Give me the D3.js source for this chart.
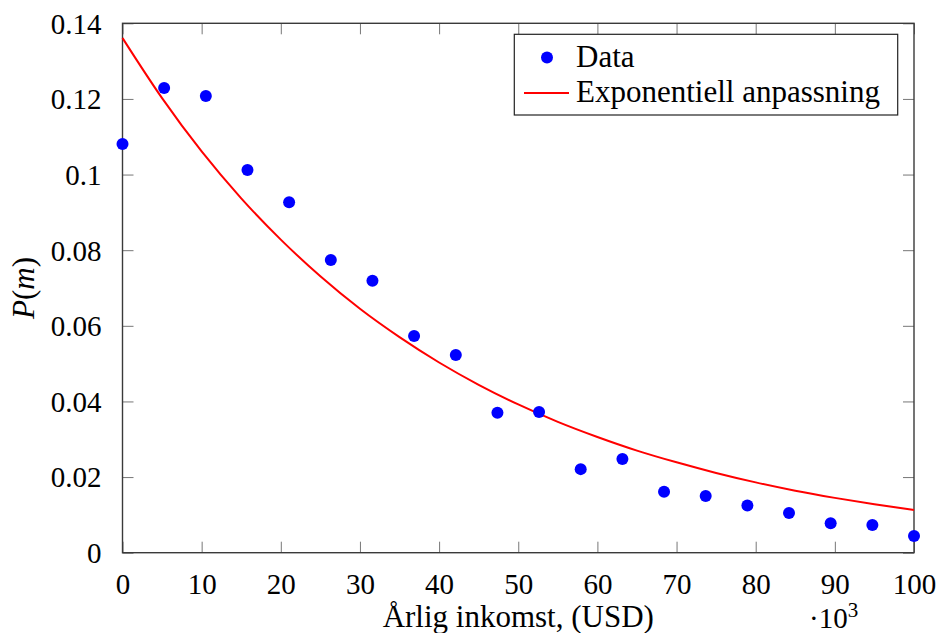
<!DOCTYPE html>
<html>
<head>
<meta charset="utf-8">
<script src="https://cdn.jsdelivr.net/npm/d3@7"></script>
<style>
    body { margin: 0; background: #fff; }
    svg text { font-family: 'Liberation Serif', 'Times New Roman', Times, 'DejaVu Serif', serif; fill: #000; }
</style>
</head>
<body>
<svg width="938" height="633"></svg>
<script>
// Data points (income in thousands USD, probability)
const incomeK = [0, 5.26, 10.53, 15.79, 21.05, 26.32, 31.58, 36.84, 42.11, 47.37,
    52.63, 57.89, 63.16, 68.42, 73.68, 78.95, 84.21, 89.47, 94.74, 100];
const probability = [0.1081, 0.1229, 0.1208, 0.1012, 0.0927, 0.0774, 0.0719, 0.0573, 0.0523, 0.0370,
    0.0372, 0.0221, 0.0248, 0.0161, 0.0150, 0.0125, 0.0105, 0.0078, 0.0073, 0.0044];

// Exponential fit
const fitX = [0, 5, 10, 15, 20, 25, 30, 35, 40, 45, 50, 55, 60, 65, 70, 75, 80, 85, 90, 95, 100];
const fitY = [0.1361, 0.1202, 0.1061, 0.0937, 0.0828, 0.0731, 0.0645, 0.0570, 0.0503, 0.0444,
    0.0392, 0.0346, 0.0306, 0.0270, 0.0239, 0.0211, 0.0186, 0.0164, 0.0145, 0.0128, 0.0113];

const xTicks = [0, 10, 20, 30, 40, 50, 60, 70, 80, 90, 100];
const yTicks = [0, 0.02, 0.04, 0.06, 0.08, 0.1, 0.12, 0.14];
const legendLabels = ['Data', 'Exponentiell anpassning'];

function drawChart() {
    const svg = d3.select('svg');
    const box = { left: 122.5, right: 914, top: 23.3, bottom: 552.7 };
    const fontSize = 29;
    const labelSize = 31;
    const tickLen = 11;

    const xScale = d3.scaleLinear()
        .domain([0, 100])
        .range([box.left, box.right]);
    const yScale = d3.scaleLinear()
        .domain([0, 0.14])
        .range([box.bottom, box.top]);

    // Axes (ticks pointing inward, mirrored)
    const xBottom = d3.axisBottom(xScale)
        .tickValues(xTicks)
        .tickSizeInner(-tickLen)
        .tickSizeOuter(0)
        .tickPadding(tickLen + 10)
        .tickFormat(d3.format('d'));
    const xTop = d3.axisTop(xScale)
        .tickValues(xTicks)
        .tickSizeInner(-tickLen)
        .tickSizeOuter(0)
        .tickFormat('');
    const yLeft = d3.axisLeft(yScale)
        .tickValues(yTicks)
        .tickSizeInner(-tickLen)
        .tickSizeOuter(0)
        .tickPadding(tickLen + 10)
        .tickFormat(d => d === 0 ? '0' : String(+d.toFixed(2)));
    const yRight = d3.axisRight(yScale)
        .tickValues(yTicks)
        .tickSizeInner(-tickLen)
        .tickSizeOuter(0)
        .tickFormat('');

    const gx = svg.append('g')
        .attr('transform', `translate(0, ${box.bottom})`)
        .call(xBottom);
    svg.append('g')
        .attr('transform', `translate(0, ${box.top})`)
        .call(xTop);
    const gy = svg.append('g')
        .attr('transform', `translate(${box.left}, 0)`)
        .call(yLeft);
    svg.append('g')
        .attr('transform', `translate(${box.right}, 0)`)
        .call(yRight);

    svg.selectAll('.domain').remove();
    svg.selectAll('.tick line')
        .attr('stroke', '#777')
        .attr('stroke-width', 1);
    svg.selectAll('g').attr('font-family', null);
    svg.selectAll('.tick text')
        .style('font-size', fontSize + 'px');
    gx.selectAll('.tick text').attr('dy', '0.71em');
    gy.selectAll('.tick text').attr('dy', '0.34em');

    // Frame
    svg.append('rect')
        .attr('x', box.left)
        .attr('y', box.top)
        .attr('width', box.right - box.left)
        .attr('height', box.bottom - box.top)
        .attr('fill', 'none')
        .attr('stroke', '#3a3a3a')
        .attr('stroke-width', 1.4);

    // Fit curve
    const line = d3.line()
        .x((d, i) => xScale(fitX[i]))
        .y(d => yScale(d))
        .curve(d3.curveMonotoneX);
    svg.append('path')
        .datum(fitY)
        .attr('d', line)
        .attr('fill', 'none')
        .attr('stroke', '#ff0000')
        .attr('stroke-width', 2);

    // Data points
    svg.selectAll('circle.pt')
        .data(probability)
        .join('circle')
        .attr('class', 'pt')
        .attr('cx', (d, i) => xScale(incomeK[i]))
        .attr('cy', d => yScale(d))
        .attr('r', 6)
        .attr('fill', '#0000ff');

    // Labels
    svg.append('text')
        .text('Årlig inkomst, (USD)')
        .attr('x', (box.left + box.right) / 2)
        .attr('y', 627)
        .style('text-anchor', 'middle')
        .style('font-size', labelSize + 'px');
    const mult = svg.append('text')
        .attr('x', 809)
        .attr('y', 628)
        .style('font-size', fontSize + 'px');
    mult.append('tspan').text('·10');
    mult.append('tspan').text('3')
        .attr('dy', -11)
        .style('font-size', '21px');

    const yLabel = svg.append('text')
        .attr('transform', `translate(34, ${(box.top + box.bottom) / 2}) rotate(-90)`)
        .style('text-anchor', 'middle')
        .style('font-size', labelSize + 'px');
    yLabel.append('tspan').text('P').style('font-style', 'italic');
    yLabel.append('tspan').text('(');
    yLabel.append('tspan').text('m').style('font-style', 'italic');
    yLabel.append('tspan').text(')');

    // Legend
    const legend = svg.append('g');
    legend.append('rect')
        .attr('x', 514.3)
        .attr('y', 34.3)
        .attr('width', 383.4)
        .attr('height', 80.7)
        .attr('fill', '#fff')
        .attr('stroke', '#222')
        .attr('stroke-width', 1.2);
    legend.append('circle')
        .attr('cx', 547)
        .attr('cy', 57.5)
        .attr('r', 6)
        .attr('fill', '#0000ff');
    legend.append('line')
        .attr('x1', 524)
        .attr('x2', 569)
        .attr('y1', 93)
        .attr('y2', 93)
        .attr('stroke', '#ff0000')
        .attr('stroke-width', 2);
    legendLabels.forEach((label, i) => {
        legend.append('text')
            .text(label)
            .attr('x', 576)
            .attr('y', 66.5 + i * 35)
            .style('font-size', labelSize + 'px');
    });
}

window.addEventListener('load', drawChart);
</script>
</body>
</html>
